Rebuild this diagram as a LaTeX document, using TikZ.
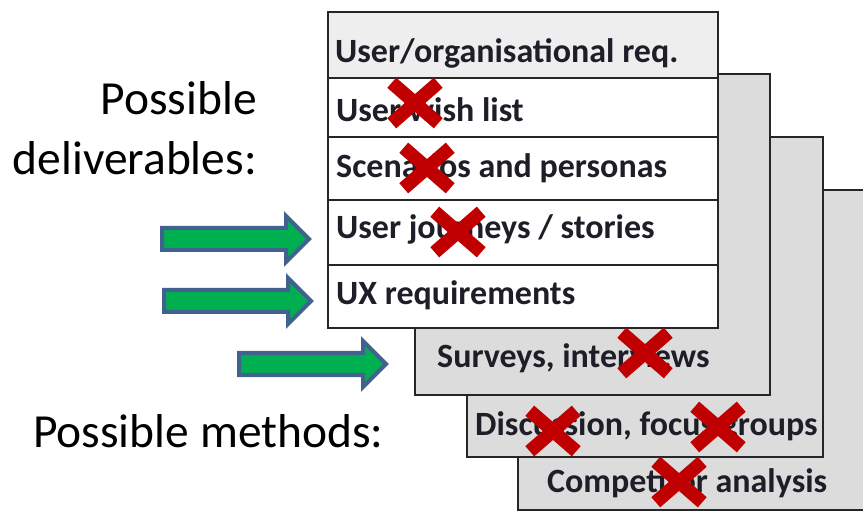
\documentclass[tikz,border=0pt]{standalone}
\usepackage{fontspec}
\setmainfont{Carlito}
\usetikzlibrary{shapes.misc}
\definecolor{xred}{HTML}{C00000}
\definecolor{agreen}{HTML}{00B050}
\definecolor{ablue}{HTML}{41618F}
\definecolor{sheetgray}{HTML}{DCDCDC}
\definecolor{headgray}{HTML}{EEEEEE}
\definecolor{edge}{HTML}{262626}
\definecolor{ink}{HTML}{1E1E28}
\tikzset{
  sheet/.style={draw=edge, line width=2.6pt, fill=sheetgray},
  rowbox/.style={draw=edge, line width=2.6pt, fill=white},
  headbox/.style={draw=edge, line width=2.6pt, fill=headgray},
  boxtext/.style={anchor=base west, inner sep=0pt, text=ink, font=\fontsize{34}{40}\selectfont\bfseries},
  bigtext/.style={inner sep=0pt, font=\fontsize{47.5}{60}\selectfont},
  redx/.style={cross out, draw=xred, line width=13.5pt, minimum width=33pt, minimum height=27pt, inner sep=0pt},
  blockarrow/.style={draw=ablue, line width=4pt, fill=agreen, line join=miter}
}
\begin{document}
\begin{tikzpicture}[x=1pt,y=-1pt]
\useasboundingbox (0,0) rectangle (863,513);
% back sheets
\draw[sheet] (518,190) rectangle (875,510);
\node[boxtext] (comp) at (547,492) {Competitor analysis};
\draw[sheet] (467,137) rectangle (823,457);
\node[boxtext] (disc) at (475,435) {Discussion, focus groups};
\draw[sheet] (415,74) rectangle (770,395);
\node[boxtext] (surv) at (437,367) {Surveys, interviews};
% front sheet
\draw[headbox] (328,12) rectangle (718,78);
\draw[rowbox] (328,78) rectangle (718,137);
\draw[rowbox] (328,137) rectangle (718,200);
\draw[rowbox] (328,200) rectangle (718,265);
\draw[rowbox] (328,265) rectangle (718,328);
\node[boxtext] (req) at (335,63) {User/organisational req.};
\node[boxtext] (wish) at (336,122) {User wish list};
\node[boxtext] (scen) at (336,178) {Scenarios and personas};
\node[boxtext] (journ) at (336,239) {User journeys / stories};
\node[boxtext] (ux) at (336,305) {UX requirements};
% crosses
\node[redx] (x1) at (415,103) {};
\node[redx] (x2) at (427,168) {};
\node[redx] (x3) at (458,232) {};
\node[redx] (x4) at (645,353) {};
\node[redx] (x5) at (553,431) {};
\node[redx] (x6) at (718,427) {};
\node[redx] (x7) at (679,482) {};
% arrows
\draw[blockarrow] (162,228) -- (286,228) -- (286,216) -- (309,239) -- (286,262) -- (286,250) -- (162,250) -- cycle;
\draw[blockarrow] (164,290) -- (288,290) -- (288,278) -- (311,301) -- (288,324) -- (288,312) -- (164,312) -- cycle;
\draw[blockarrow] (239,353) -- (363,353) -- (363,341) -- (386,364) -- (363,387) -- (363,375) -- (239,375) -- cycle;
% labels
\node[bigtext, anchor=base east] (poss) at (257,115) {Possible};
\node[bigtext, anchor=base east] (deliv) at (257,175) {deliverables:};
\node[bigtext, anchor=base west] (meth) at (33,447) {Possible methods:};
\end{tikzpicture}
\end{document}
